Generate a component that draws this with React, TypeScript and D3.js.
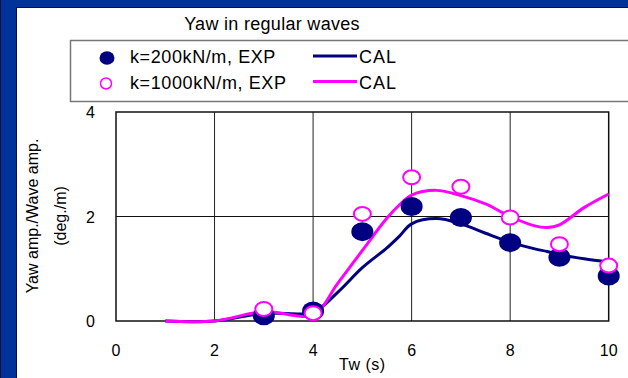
import React, { useRef, useEffect } from 'react';
import * as d3 from 'd3';

// experiment points, Tw = 3..10 s
const expTw = [3, 4, 5, 6, 7, 8, 9, 10];
const exp200 = [0.1, 0.19, 1.71, 2.19, 1.98, 1.5, 1.22, 0.86];
const exp1000 = [0.23, 0.15, 2.05, 2.75, 2.57, 1.98, 1.47, 1.06];

// calculation
const calTw = [1, 2, 3, 4, 4.5, 5, 5.5, 5.75, 6, 6.5, 7, 7.5, 8, 8.5, 8.75, 9, 9.5, 10];
const cal200 = [0, 0, 0.15, 0.17, 0.55, 1.02, 1.4, 1.62, 1.86, 1.96, 1.86, 1.68, 1.51, 1.38, 1.33, 1.27, 1.19, 1.13];
const cal1000 = [0, 0, 0.18, 0.12, 0.72, 1.35, 1.97, 2.22, 2.41, 2.5, 2.4, 2.24, 2.0, 1.82, 1.79, 1.84, 2.17, 2.43];

const xTicks = [0, 2, 4, 6, 8, 10];
const yTicks = [0, 2, 4];

const NAVY = '#000080';
const MAGENTA = '#ff00ff';
const FONT = '"Liberation Sans", Arial, sans-serif';

const App = () => {
  const svgRef = useRef(null);

  useEffect(() => {
    document.body.style.margin = '0';
    document.body.style.overflow = 'hidden';
    const svg = d3.select(svgRef.current);
    svg.selectAll('*').remove();

    const width = 628;
    const height = 378;
    const plot = { left: 116, right: 608.7, top: 112, bottom: 321 };

    // blue slide frame
    svg.append('rect').attr('width', width).attr('height', height).attr('fill', '#00339a');
    svg.append('rect').attr('x', 0).attr('y', 0).attr('width', 1).attr('height', height).attr('fill', '#001040');
    svg.append('rect')
      .attr('x', 16.5).attr('y', 7.5)
      .attr('width', width).attr('height', height)
      .attr('fill', '#fff')
      .attr('stroke', '#001040')
      .attr('stroke-width', 1);

    const x = d3.scaleLinear().domain([0, 10]).range([plot.left, plot.right]);
    const y = d3.scaleLinear().domain([0, 4]).range([plot.bottom, plot.top]);

    const g = svg.append('g');

    // grid
    g.selectAll('.vgrid')
      .data([2, 4, 6, 8])
      .enter().append('line')
      .attr('x1', d => x(d)).attr('x2', d => x(d))
      .attr('y1', plot.top).attr('y2', plot.bottom)
      .attr('stroke', '#222').attr('stroke-width', 1);
    g.append('line')
      .attr('x1', plot.left).attr('x2', plot.right)
      .attr('y1', y(2)).attr('y2', y(2))
      .attr('stroke', '#111').attr('stroke-width', 1.2);

    g.append('rect')
      .attr('x', plot.left).attr('y', plot.top)
      .attr('width', plot.right - plot.left).attr('height', plot.bottom - plot.top)
      .attr('fill', 'none').attr('stroke', '#111').attr('stroke-width', 1.5);

    // tick labels
    g.selectAll('.xt')
      .data(xTicks)
      .enter().append('text')
      .attr('x', d => x(d)).attr('y', 356)
      .attr('text-anchor', 'middle')
      .attr('font-family', FONT).attr('font-size', 16)
      .text(d => d);
    g.selectAll('.yt')
      .data(yTicks)
      .enter().append('text')
      .attr('x', 95).attr('y', d => y(d) + 6)
      .attr('text-anchor', 'end')
      .attr('font-family', FONT).attr('font-size', 16)
      .text(d => d);

    g.append('text')
      .attr('x', x(5)).attr('y', 370)
      .attr('text-anchor', 'middle')
      .attr('font-family', FONT).attr('font-size', 16)
      .attr('letter-spacing', 0.5)
      .text('Tw (s)');

    const yt = g.append('text')
      .attr('transform', `translate(38,216) rotate(-90)`)
      .attr('text-anchor', 'middle')
      .attr('font-family', FONT).attr('font-size', 16);
    yt.append('tspan').attr('x', 0).attr('y', 0).text('Yaw amp./Wave amp.');
    yt.append('tspan').attr('x', 0).attr('y', 28).text('(deg./m)');

    // lines
    const line = d3.line<number>()
      .x((d, i) => x(calTw[i]))
      .y(d => y(d))
      .curve(d3.curveCatmullRom.alpha(0.5));

    g.append('path').attr('d', line(cal200))
      .attr('fill', 'none').attr('stroke', NAVY).attr('stroke-width', 3);
    g.append('path').attr('d', line(cal1000))
      .attr('fill', 'none').attr('stroke', MAGENTA).attr('stroke-width', 3);

    // markers
    g.selectAll('.e200')
      .data(exp200)
      .enter().append('ellipse')
      .attr('cx', (d, i) => x(expTw[i])).attr('cy', d => y(d))
      .attr('rx', 11).attr('ry', 9.5)
      .attr('fill', NAVY);
    g.selectAll('.e1000')
      .data(exp1000)
      .enter().append('ellipse')
      .attr('cx', (d, i) => x(expTw[i])).attr('cy', d => y(d))
      .attr('rx', 8.5).attr('ry', 7)
      .attr('fill', '#fff').attr('stroke', MAGENTA).attr('stroke-width', 2);

    // title
    svg.append('text')
      .attr('x', 272).attr('y', 30)
      .attr('text-anchor', 'middle')
      .attr('font-family', FONT).attr('font-size', 18)
      .attr('letter-spacing', 0.3)
      .text('Yaw in regular waves');

    // legend
    const lg = svg.append('g');
    lg.append('rect')
      .attr('x', 70.5).attr('y', 40.5)
      .attr('width', 600).attr('height', 61)
      .attr('fill', '#fff').attr('stroke', '#777').attr('stroke-width', 1.5);

    const rows = [
      { label: 'k=200kN/m, EXP', color: NAVY, filled: true, cy: 58 },
      { label: 'k=1000kN/m, EXP', color: MAGENTA, filled: false, cy: 83.5 },
    ];
    rows.forEach(r => {
      if (r.filled) {
        lg.append('ellipse').attr('cx', 107).attr('cy', r.cy).attr('rx', 7.5).attr('ry', 6.8).attr('fill', r.color);
      } else {
        lg.append('ellipse').attr('cx', 106).attr('cy', r.cy).attr('rx', 5.5).attr('ry', 5.5)
          .attr('fill', '#fff').attr('stroke', r.color).attr('stroke-width', 1.5);
      }
      lg.append('text')
        .attr('x', 130).attr('y', r.cy + 5)
        .attr('font-family', FONT).attr('font-size', 18)
        .attr('letter-spacing', 0.6)
        .text(r.label);
      lg.append('line')
        .attr('x1', 313).attr('x2', 357)
        .attr('y1', r.cy - 2).attr('y2', r.cy - 2)
        .attr('stroke', r.color).attr('stroke-width', 3);
      lg.append('text')
        .attr('x', 359).attr('y', r.cy + 5)
        .attr('font-family', FONT).attr('font-size', 18)
        .attr('letter-spacing', 1)
        .text('CAL');
    });
  }, []);

  return (
    <svg
      ref={svgRef}
      width={628}
      height={378}
      style={{ position: 'absolute', left: 0, top: 0 }}
    />
  );
};

export default App;
